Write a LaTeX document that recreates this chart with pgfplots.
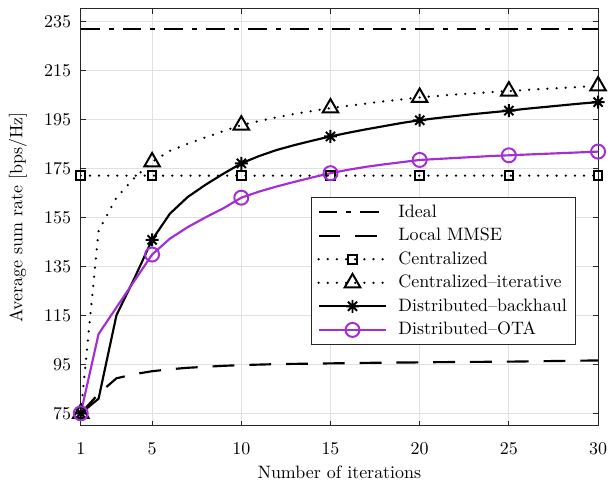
\documentclass[border=0pt]{standalone}
\usepackage{pgfplots}
\pgfplotsset{compat=1.18}
\definecolor{otapurple}{RGB}{165,45,215}
\definecolor{gridgray}{RGB}{225,225,225}
\definecolor{axgray}{RGB}{38,38,38}
\pgfdeclareplotmark{ast8}{%
  \pgfpathmoveto{\pgfqpoint{0pt}{\pgfplotmarksize}}\pgfpathlineto{\pgfqpoint{0pt}{-\pgfplotmarksize}}%
  \pgfpathmoveto{\pgfqpoint{\pgfplotmarksize}{0pt}}\pgfpathlineto{\pgfqpoint{-\pgfplotmarksize}{0pt}}%
  \pgfpathmoveto{\pgfqpoint{0.707\pgfplotmarksize}{0.707\pgfplotmarksize}}\pgfpathlineto{\pgfqpoint{-0.707\pgfplotmarksize}{-0.707\pgfplotmarksize}}%
  \pgfpathmoveto{\pgfqpoint{-0.707\pgfplotmarksize}{0.707\pgfplotmarksize}}\pgfpathlineto{\pgfqpoint{0.707\pgfplotmarksize}{-0.707\pgfplotmarksize}}%
  \pgfusepathqstroke}
\pgfplotstableread{
x lmmse citer back ota
1 75 75 75 75
2 83 149.5 81 107.4
3 89.3 163 115 118.2
4 91 171 130 129
5 92.2 177.6 145.8 139.8
6 93 182.1 156.5 146.3
7 93.6 185 163.3 151
8 94 187.6 168.3 155
9 94.4 190.2 172.8 158.7
10 94.7 192.6 177 163
11 94.9 194.3 180 165.5
12 95.1 195.8 182.5 167.6
13 95.2 197.2 184.5 169.5
14 95.3 198.4 186.3 171.3
15 95.4 199.6 188 173
16 95.5 200.5 189.5 174.4
17 95.6 201.4 190.9 175.6
18 95.7 202.3 192.2 176.6
19 95.75 203.1 193.5 177.5
20 95.8 203.9 194.6 178.4
21 95.9 204.5 195.5 178.8
22 95.95 205.1 196.3 179.2
23 96 205.6 197.1 179.6
24 96.05 206.1 197.8 180
25 96.1 206.5 198.5 180.3
26 96.2 207 199.3 180.6
27 96.3 207.4 200 180.9
28 96.4 207.8 200.7 181.2
29 96.5 208.2 201.4 181.5
30 96.6 208.6 202 181.8
}\datatable
\begin{document}
\begin{tikzpicture}
\begin{axis}[
 scale only axis, width=288.3pt, height=232.2pt,
 xmin=1, xmax=30, ymin=70, ymax=240,
 xtick={1,5,10,15,20,25,30}, ytick={75,95,...,235},
 grid=major, major grid style={gridgray, line width=0.55pt},
 tick align=inside, major tick length=2.8pt,
 axis line style={axgray, line width=0.55pt},
 tick style={axgray, line width=0.55pt},
 xticklabel style={yshift=-5.9pt},
 yticklabel style={xshift=-1.9pt},
 xlabel={Number of iterations}, ylabel={Average sum rate [bps/Hz]},
 every axis x label/.style={at={(axis description cs:0.5,-0.111)}, anchor=center},
 every axis y label/.style={at={(axis description cs:-0.1214,0.5)}, rotate=90, anchor=center},
 legend style={at={(0.958,0.549)}, anchor=north east, draw=axgray, line width=0.55pt, font=\normalsize, inner xsep=3pt, inner ysep=2pt, row sep=0.6pt},
 legend cell align=left,
 legend image code/.code={\draw[#1, mark indices={2}] plot coordinates {(0pt,0pt) (18.9pt,0pt) (37.8pt,0pt)};\path (41.8pt,0pt);},
 every axis plot/.append style={line width=1.2pt},
]
\addplot[black, no markers, dash pattern=on 10.5pt off 5pt on 2.8pt off 5pt] coordinates {(1,232) (30,232)};
\addlegendentry{Ideal}
\addplot[black, no markers, dash pattern=on 12.2pt off 8.3pt] table[x=x,y=lmmse] {\datatable};
\addlegendentry{Local MMSE}
\addplot[black, line cap=round, dash pattern=on 0pt off 5.1pt, line width=1.4pt, mark=square, mark size=2.4pt, mark options={solid, line width=1.1pt, line cap=butt}] coordinates {(1,172) (5,172) (10,172) (15,172) (20,172) (25,172) (30,172)};
\addlegendentry{Centralized}
\addplot[black, line cap=round, dash pattern=on 0pt off 5.1pt, line width=1.4pt, mark=triangle, mark size=5pt, mark indices={1,5,10,15,20,25,30}, mark options={solid, line width=1.1pt, line cap=butt}] table[x=x,y=citer] {\datatable};
\addlegendentry{Centralized--iterative}
\addplot[black, mark=ast8, mark size=3.6pt, mark indices={1,5,10,15,20,25,30}, mark options={solid, line width=1.1pt}] table[x=x,y=back] {\datatable};
\addlegendentry{Distributed--backhaul}
\addplot[otapurple, mark=o, mark size=3.9pt, mark indices={1,5,10,15,20,25,30}, mark options={solid, line width=1.1pt}] table[x=x,y=ota] {\datatable};
\addlegendentry{Distributed--OTA}
\end{axis}
\path ([xshift=-45pt,yshift=-31.3pt]current axis.south west) rectangle ([xshift=7.2pt,yshift=5pt]current axis.north east);
\end{tikzpicture}
\end{document}
